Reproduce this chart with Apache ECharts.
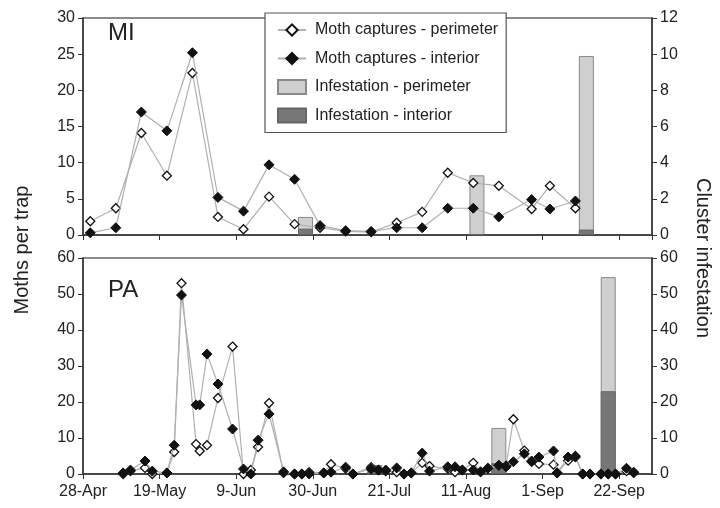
<!DOCTYPE html>
<html>
<head>
<meta charset="utf-8">
<script src="https://cdn.jsdelivr.net/npm/echarts@6/dist/echarts.min.js"></script>
<style>
  html, body { margin: 0; padding: 0; background: #fff; }
  #chart { width: 720px; height: 508px; }
</style>
</head>
<body>
<div id="chart"></div>
<script>
// MI: weekly trap checks
var miDates = ['30-Apr', '7-May', '14-May', '21-May', '28-May', '4-Jun', '11-Jun', '18-Jun', '25-Jun', '2-Jul',
  '9-Jul', '16-Jul', '23-Jul', '30-Jul', '6-Aug', '13-Aug', '20-Aug', '29-Aug', '3-Sep', '10-Sep'];
var miPerimeter = [1.9, 3.7, 14.1, 8.2, 22.4, 2.5, 0.8, 5.3, 1.5, 1.0, 0.5, 0.4, 1.7, 3.2, 8.6, 7.2, 6.8, 3.6, 6.8, 3.7];
var miInterior = [0.3, 1.0, 17.0, 14.4, 25.2, 5.2, 3.3, 9.7, 7.7, 1.3, 0.6, 0.5, 1.0, 1.0, 3.7, 3.7, 2.5, 4.9, 3.6, 4.7];
var miBarDates = ['28-Jun', '14-Aug', '13-Sep'];
var miBarPerimeter = [1.0, 3.3, 9.9];
var miBarInterior = [0.35, 0.05, 0.3];

// PA
var paDates = ['9-May', '11-May', '15-May', '17-May', '21-May', '23-May', '25-May', '29-May', '30-May', '1-Jun',
  '4-Jun', '8-Jun', '11-Jun', '13-Jun', '15-Jun', '18-Jun', '22-Jun', '25-Jun', '27-Jun', '29-Jun',
  '3-Jul', '5-Jul', '9-Jul', '11-Jul', '16-Jul', '18-Jul', '20-Jul', '23-Jul', '25-Jul', '27-Jul',
  '30-Jul', '1-Aug', '6-Aug', '8-Aug', '10-Aug', '13-Aug', '15-Aug', '17-Aug', '20-Aug', '22-Aug',
  '24-Aug', '27-Aug', '29-Aug', '31-Aug', '4-Sep', '5-Sep', '8-Sep', '10-Sep', '12-Sep', '14-Sep',
  '17-Sep', '19-Sep', '21-Sep', '24-Sep', '26-Sep'];
var paPerimeter = [0, 0.8, 1.7, 0, 0.3, 6.1, 53, 8.3, 6.4, 8.0,
  21.1, 35.4, 0, 1.1, 7.5, 19.7, 0.3, 0, 0, 0.5,
  0.3, 2.7, 1.5, 0, 1.9, 1.1, 0.8, 0.5, 0, 0.3,
  3.1, 2.2, 1.5, 0.5, 1.1, 3.1, 0.6, 1.6, 2.4, 2.3,
  15.2, 6.5, 3.4, 2.8, 2.6, 0.3, 3.7, 5.0, 0, 0,
  0, 0, 0, 0.8, 0.3];
var paInterior = [0.3, 1.1, 3.6, 0.8, 0.3, 8.0, 49.7, 19.2, 19.2, 33.3,
  25.0, 12.5, 1.4, 0, 9.4, 16.7, 0.6, 0, 0, 0,
  0.3, 0.5, 1.9, 0, 1.4, 1.1, 1.1, 1.7, 0, 0.3,
  5.8, 0.8, 2.0, 2.0, 1.1, 1.1, 0.6, 1.6, 2.4, 2.0,
  3.4, 5.6, 3.6, 4.7, 6.4, 0.3, 4.7, 4.7, 0, 0,
  0, 0, 0, 1.6, 0.5];
var paBarDates = ['17-Jul', '20-Aug', '19-Sep'];
var paBarPerimeter = [2.5, 12.8, 54.7];
var paBarInterior = [0.8, 3.0, 23.0];

var months = ['Jan', 'Feb', 'Mar', 'Apr', 'May', 'Jun', 'Jul', 'Aug', 'Sep', 'Oct', 'Nov', 'Dec'];
var start = Date.UTC(2009, 3, 28);
var DAY = 86400000;

// days since 28-Apr
function dayOf(s) {
  var p = s.split('-');
  return Math.round((Date.UTC(2009, months.indexOf(p[1]), +p[0]) - start) / DAY);
}
function dayLabel(v) {
  var d = new Date(start + v * DAY);
  return d.getUTCDate() + '-' + months[d.getUTCMonth()];
}
function pairs(dates, vals) {
  return dates.map(function (d, i) { return [dayOf(d), vals[i]]; });
}

var myChart = echarts.init(document.getElementById('chart'), null, { renderer: 'canvas' });

var axisColor = '#333';
var labelStyle = { color: '#222', fontSize: 16, fontFamily: 'Liberation Sans, Arial' };

function xAx(grid, showLabel) {
  return {
    type: 'value', gridIndex: grid, min: 0, max: 156, interval: 21,
    axisLine: { lineStyle: { color: axisColor, width: 1.5 } },
    axisTick: { length: 5, lineStyle: { color: axisColor } },
    axisLabel: Object.assign({ show: showLabel, formatter: dayLabel, margin: 10 }, labelStyle),
    splitLine: { show: false }
  };
}
function yAx(grid, pos, max, interval) {
  return {
    type: 'value', gridIndex: grid, position: pos, min: 0, max: max, interval: interval,
    axisLine: { show: true, lineStyle: { color: axisColor, width: 1.5 } },
    axisTick: { show: true, length: 5, lineStyle: { color: axisColor } },
    axisLabel: Object.assign({ margin: 8 }, labelStyle),
    splitLine: { show: false }
  };
}

var lineStyle = { color: '#b0b0b0', width: 1.2 };
function perimLine(name, x, y, data) {
  return {
    name: name, type: 'line', xAxisIndex: x, yAxisIndex: y, data: data,
    symbol: 'diamond', symbolSize: 9, z: 5,
    lineStyle: lineStyle,
    itemStyle: { color: '#fff', borderColor: '#111', borderWidth: 1.3 }
  };
}
function intLine(name, x, y, data) {
  return {
    name: name, type: 'line', xAxisIndex: x, yAxisIndex: y, data: data,
    symbol: 'diamond', symbolSize: 10, z: 6,
    lineStyle: lineStyle,
    itemStyle: { color: '#111', borderColor: '#111', borderWidth: 1 }
  };
}
function bar(name, x, y, data, color, border) {
  return {
    name: name, type: 'bar', xAxisIndex: x, yAxisIndex: y, data: data,
    barWidth: 15, barGap: '-100%', z: 2,
    itemStyle: { color: color, borderColor: border, borderWidth: 1 }
  };
}

var option = {
  backgroundColor: '#fff',
  animation: false,
  grid: [
    { left: 83, right: 68, top: 18, height: 217, show: true, borderColor: '#666', borderWidth: 1.5 },
    { left: 83, right: 68, top: 258, height: 216, show: true, borderColor: '#666', borderWidth: 1.5 }
  ],
  xAxis: [xAx(0, false), xAx(1, true)],
  yAxis: [
    yAx(0, 'left', 30, 5),
    yAx(0, 'right', 12, 2),
    yAx(1, 'left', 60, 10),
    yAx(1, 'right', 60, 10)
  ],
  legend: {
    orient: 'vertical',
    left: 265, top: 13,
    padding: [9, 8, 9, 12],
    itemWidth: 28, itemHeight: 14, itemGap: 12.5,
    backgroundColor: '#fff',
    borderColor: '#555', borderWidth: 1.2,
    textStyle: { color: '#222', fontSize: 16, fontFamily: 'Liberation Sans, Arial', padding: [0, 0, 0, 4] },
    data: [
      { name: 'Moth captures - perimeter' },
      { name: 'Moth captures - interior' },
      { name: 'Infestation - perimeter', icon: 'rect' },
      { name: 'Infestation - interior', icon: 'rect' }
    ]
  },
  graphic: [
    { type: 'text', left: 108, top: 21, style: { text: 'MI', font: '24px Liberation Sans, Arial', fill: '#222' } },
    { type: 'text', left: 108, top: 278, style: { text: 'PA', font: '24px Liberation Sans, Arial', fill: '#222' } },
    { type: 'text', x: 22, y: 250, rotation: Math.PI / 2,
      style: { text: 'Moths per trap', font: '20px Liberation Sans, Arial', fill: '#222', textAlign: 'center', textVerticalAlign: 'middle' } },
    { type: 'text', x: 703, y: 258, rotation: -Math.PI / 2,
      style: { text: 'Cluster infestation', font: '20px Liberation Sans, Arial', fill: '#222', textAlign: 'center', textVerticalAlign: 'middle' } }
  ],
  series: [
    bar('Infestation - perimeter', 0, 1, pairs(miBarDates, miBarPerimeter), '#cfcfcf', '#8a8a8a'),
    bar('Infestation - interior', 0, 1, pairs(miBarDates, miBarInterior), '#777', '#666'),
    bar('Infestation - perimeter', 1, 3, pairs(paBarDates, paBarPerimeter), '#cfcfcf', '#8a8a8a'),
    bar('Infestation - interior', 1, 3, pairs(paBarDates, paBarInterior), '#777', '#666'),
    perimLine('Moth captures - perimeter', 0, 0, pairs(miDates, miPerimeter)),
    intLine('Moth captures - interior', 0, 0, pairs(miDates, miInterior)),
    perimLine('Moth captures - perimeter', 1, 2, pairs(paDates, paPerimeter)),
    intLine('Moth captures - interior', 1, 2, pairs(paDates, paInterior))
  ]
};

myChart.setOption(option);
</script>
</body>
</html>
